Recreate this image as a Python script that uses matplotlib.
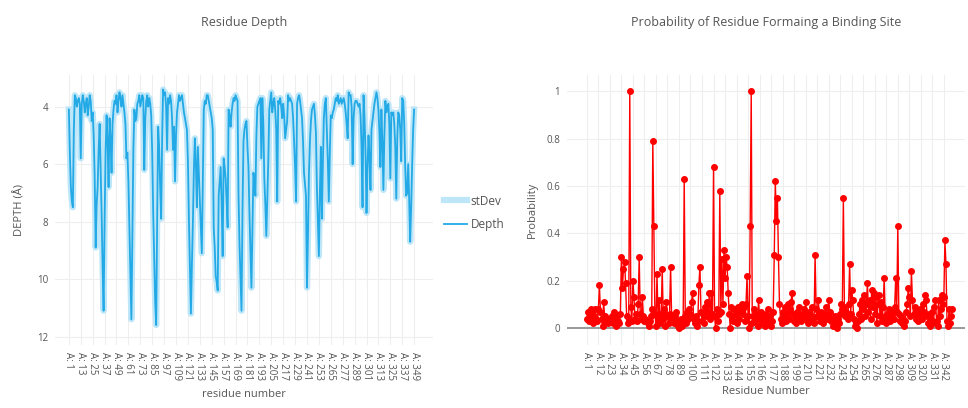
import matplotlib
matplotlib.use('Agg')
import matplotlib.pyplot as plt

plt.rcParams['font.family'] = ['Open Sans', 'DejaVu Sans']

# residue depth (A), one value per residue A:1 .. A:349
depth = [
    4.1, 5.6, 6.8, 7.3, 7.5, 4.8, 3.6, 3.7, 4.0, 3.8, 3.7, 3.9,
    5.8, 3.9, 3.6, 3.8, 4.2, 3.9, 3.7, 4.3, 4.0, 3.6, 3.8, 4.5,
    4.2, 5.0, 6.4, 8.9, 7.4, 6.8, 5.5, 4.6, 6.2, 7.7, 9.6, 11.1,
    8.0, 5.6, 4.3, 5.2, 6.8, 4.4, 5.1, 6.3, 4.6, 4.1, 3.8, 3.9,
    3.6, 4.2, 3.8, 3.5, 3.7, 4.0, 3.6, 3.9, 4.2, 4.6, 5.8, 5.6,
    6.6, 8.2, 9.8, 11.4, 8.3, 5.5, 4.1, 4.5, 4.4, 3.9, 3.8, 3.6,
    4.0, 3.8, 3.6, 3.7, 6.2, 4.4, 3.8, 3.6, 4.0, 3.7, 3.9, 4.3,
    5.6, 7.7, 9.3, 10.8, 11.6, 7.9, 4.7, 5.4, 6.8, 7.9, 5.1, 3.4,
    3.6, 3.5, 4.0, 5.5, 3.7, 3.9, 3.6, 3.8, 4.4, 5.5, 4.7, 6.6,
    5.0, 4.2, 3.9, 3.6, 3.8, 3.7, 3.6, 3.9, 4.2, 4.4, 4.6, 4.8,
    5.9, 7.9, 9.6, 11.2, 9.5, 8.0, 6.2, 5.1, 6.0, 7.5, 5.4, 6.3,
    7.1, 8.2, 9.1, 6.5, 4.1, 3.8, 3.9, 3.6, 3.6, 3.8, 4.0, 4.2,
    4.4, 4.8, 8.2, 8.9, 9.9, 10.1, 10.4, 7.1, 6.6, 6.1, 7.4, 9.2,
    5.8, 6.1, 6.5, 7.3, 8.2, 4.1, 4.3, 4.7, 4.2, 3.9, 3.7, 3.8,
    3.6, 3.7, 3.8, 7.1, 8.8, 10.0, 11.1, 7.6, 5.2, 4.8, 4.6, 4.5,
    5.4, 6.1, 7.7, 9.0, 10.3, 8.2, 6.3, 6.6, 7.1, 5.0, 4.0, 3.9,
    3.8, 3.7, 5.8, 3.7, 4.6, 6.5, 7.4, 8.5, 7.2, 5.9, 4.1, 3.8,
    3.5, 4.2, 3.9, 3.7, 4.1, 4.8, 7.3, 3.8, 3.9, 3.7, 4.0, 4.4,
    3.9, 4.3, 5.1, 4.8, 4.5, 3.6, 3.8, 3.7, 3.8, 3.9, 4.4, 5.2,
    6.1, 7.3, 3.9, 3.7, 3.6, 3.8, 4.1, 4.4, 5.2, 6.3, 6.7, 7.1,
    10.3, 8.5, 6.3, 5.2, 4.5, 4.1, 4.0, 3.9, 4.3, 4.9, 6.8, 8.0,
    9.2, 7.0, 5.4, 7.9, 6.0, 4.4, 3.9, 3.7, 4.8, 5.9, 7.3, 5.6,
    4.3, 4.4, 4.2, 4.1, 3.9, 3.7, 3.8, 3.6, 3.9, 3.8, 3.7, 3.9,
    3.8, 3.7, 3.9, 4.2, 4.6, 5.1, 3.5, 3.6, 3.6, 4.0, 6.0, 4.4,
    3.9, 3.8, 3.8, 3.9, 4.0, 3.9, 4.3, 5.4, 7.5, 3.6, 4.4, 5.6,
    7.7, 6.1, 5.0, 5.8, 6.9, 4.8, 4.5, 4.2, 3.9, 3.7, 3.5, 3.7,
    4.1, 4.9, 6.1, 4.1, 5.2, 6.9, 5.0, 3.8, 4.2, 4.0, 3.9, 4.6,
    6.5, 4.2, 4.3, 4.2, 4.6, 5.4, 7.2, 5.1, 4.2, 4.3, 4.8, 5.9,
    3.7, 3.8, 4.6, 6.1, 7.1, 7.0, 6.0, 7.2, 8.7, 7.5, 6.0, 4.8,
    4.1,
]

# probability of forming a binding site, residues A:1 .. A:350
prob = [
    0.04, 0.07, 0.03, 0.05, 0.08, 0.06, 0.02, 0.05, 0.08, 0.04,
    0.03, 0.08, 0.18, 0.07, 0.04, 0.01, 0.11, 0.05, 0.03, 0.04,
    0.02, 0.04, 0.03, 0.04, 0.05, 0.02, 0.07, 0.04, 0.01, 0.05,
    0.03, 0.02, 0.06, 0.30, 0.17, 0.25, 0.28, 0.19, 0.05, 0.02,
    0.04, 1.00, 0.09, 0.03, 0.20, 0.13, 0.04, 0.06, 0.03, 0.10,
    0.30, 0.06, 0.04, 0.13, 0.05, 0.03, 0.04, 0.03, 0.02, 0.01,
    0.03, 0.05, 0.08, 0.79, 0.43, 0.06, 0.01, 0.23, 0.04, 0.12,
    0.02, 0.06, 0.25, 0.04, 0.08, 0.01, 0.11, 0.05, 0.02, 0.06,
    0.26, 0.04, 0.03, 0.02, 0.05, 0.07, 0.03, 0.01, 0.00, 0.02,
    0.04, 0.01, 0.03, 0.63, 0.05, 0.02, 0.07, 0.04, 0.08, 0.06,
    0.11, 0.15, 0.04, 0.02, 0.05, 0.01, 0.03, 0.18, 0.26, 0.07,
    0.03, 0.06, 0.02, 0.09, 0.05, 0.11, 0.07, 0.15, 0.04, 0.15,
    0.06, 0.68, 0.05, 0.00, 0.08, 0.03, 0.06, 0.58, 0.07, 0.29,
    0.10, 0.33, 0.21, 0.30, 0.26, 0.15, 0.06, 0.00, 0.09, 0.05,
    0.03, 0.08, 0.06, 0.02, 0.09, 0.04, 0.07, 0.08, 0.10, 0.06,
    0.09, 0.03, 0.10, 0.22, 0.05, 0.00, 0.43, 1.00, 0.02, 0.05,
    0.08, 0.03, 0.06, 0.01, 0.12, 0.04, 0.07, 0.02, 0.05, 0.03,
    0.01, 0.06, 0.04, 0.08, 0.02, 0.05, 0.01, 0.03, 0.07, 0.31,
    0.62, 0.45, 0.55, 0.30, 0.10, 0.04, 0.02, 0.07, 0.05, 0.09,
    0.03, 0.06, 0.10, 0.04, 0.08, 0.11, 0.15, 0.06, 0.03, 0.05,
    0.02, 0.07, 0.04, 0.09, 0.06, 0.03, 0.05, 0.08, 0.04, 0.11,
    0.06, 0.02, 0.07, 0.03, 0.05, 0.09, 0.04, 0.02, 0.31, 0.08,
    0.05, 0.12, 0.06, 0.03, 0.07, 0.04, 0.02, 0.06, 0.09, 0.04,
    0.05, 0.12, 0.07, 0.03, 0.04, 0.01, 0.02, 0.05, 0.03, 0.00,
    0.04, 0.02, 0.06, 0.10, 0.08, 0.55, 0.09, 0.05, 0.07, 0.04,
    0.10, 0.27, 0.06, 0.16, 0.12, 0.04, 0.01, 0.02, 0.00, 0.03,
    0.06, 0.10, 0.04, 0.12, 0.08, 0.14, 0.05, 0.10, 0.19, 0.07,
    0.12, 0.04, 0.16, 0.09, 0.15, 0.06, 0.13, 0.02, 0.10, 0.14,
    0.05, 0.11, 0.03, 0.09, 0.21, 0.05, 0.02, 0.06, 0.04, 0.08,
    0.03, 0.05, 0.07, 0.04, 0.09, 0.21, 0.07, 0.43, 0.06, 0.03,
    0.05, 0.02, 0.04, 0.01, 0.03, 0.07, 0.10, 0.17, 0.13, 0.05,
    0.24, 0.12, 0.06, 0.09, 0.04, 0.07, 0.03, 0.05, 0.08, 0.06,
    0.04, 0.10, 0.07, 0.14, 0.12, 0.05, 0.02, 0.06, 0.01, 0.04,
    0.07, 0.02, 0.09, 0.12, 0.03, 0.01, 0.12, 0.05, 0.08, 0.14,
    0.10, 0.13, 0.37, 0.27, 0.03, 0.01, 0.08, 0.02, 0.05, 0.08,
]

res_depth = list(range(1, len(depth) + 1))
res_prob = list(range(1, len(prob) + 1))

depth_ticks = list(range(1, 350, 12))
prob_ticks = list(range(1, 343, 11))
depth_ticklabels = ['A: %d' % r for r in depth_ticks]
prob_ticklabels = ['A: %d' % r for r in prob_ticks]

txt = '#555555'
grid = '#eeeeee'

fig = plt.figure(figsize=(9.68, 4.08), dpi=100)

# --- residue depth
ax1 = fig.add_axes([0.0568, 0.154, 0.3905, 0.662])
ax1.plot(res_depth, depth, color='#bde6f8', lw=4.5, label='stDev', solid_joinstyle='round')
ax1.plot(res_depth, depth, color='#22a9e6', lw=1.3, label='Depth')
ax1.set_ylim(12.3, 2.9)
ax1.set_xlim(-13, 368)
ax1.set_yticks([4, 6, 8, 10, 12])
ax1.set_xticks(depth_ticks)
ax1.set_xticklabels(depth_ticklabels, rotation=-90, fontsize=7, color=txt)
ax1.tick_params(axis='both', length=0, labelsize=7, labelcolor=txt, pad=5)
ax1.grid(True, color=grid, lw=0.8)
ax1.set_axisbelow(True)
for s in ax1.spines.values():
    s.set_visible(False)
ax1.set_title('Residue Depth', fontsize=9, color=txt, pad=35)
ax1.set_ylabel('DEPTH (Å)', fontsize=8, color=txt, labelpad=8)
ax1.set_xlabel('residue number', fontsize=8, color=txt, labelpad=6)
ax1.legend(loc='center left', bbox_to_anchor=(1.0, 0.49), frameon=False,
           fontsize=8.5, labelcolor=txt, handlelength=2.0, handletextpad=0.3,
           labelspacing=0.9)

# --- binding site probability
ax2 = fig.add_axes([0.5857, 0.154, 0.411, 0.662])
ax2.axhline(0, color='#999999', lw=1.4, zorder=1)
ax2.plot(res_prob, prob, color='#ff0000', lw=1.0, marker='o', ms=4, zorder=3)
ax2.set_ylim(-0.072, 1.068)
ax2.set_xlim(-18, 362)
ax2.set_yticks([0, 0.2, 0.4, 0.6, 0.8, 1])
ax2.set_yticklabels(['0', '0.2', '0.4', '0.6', '0.8', '1'])
ax2.set_xticks(prob_ticks)
ax2.set_xticklabels(prob_ticklabels, rotation=-90, fontsize=7, color=txt)
ax2.tick_params(axis='both', length=0, labelsize=7, labelcolor=txt, pad=5)
ax2.grid(True, color=grid, lw=0.8)
ax2.set_axisbelow(True)
for s in ax2.spines.values():
    s.set_visible(False)
ax2.set_title('Probability of Residue Formaing a Binding Site', fontsize=9, color=txt, pad=35)
ax2.set_ylabel('Probability', fontsize=8, color=txt, labelpad=6)
ax2.set_xlabel('Residue Number', fontsize=8, color=txt, labelpad=4)

fig.savefig('out.png', dpi=100)
